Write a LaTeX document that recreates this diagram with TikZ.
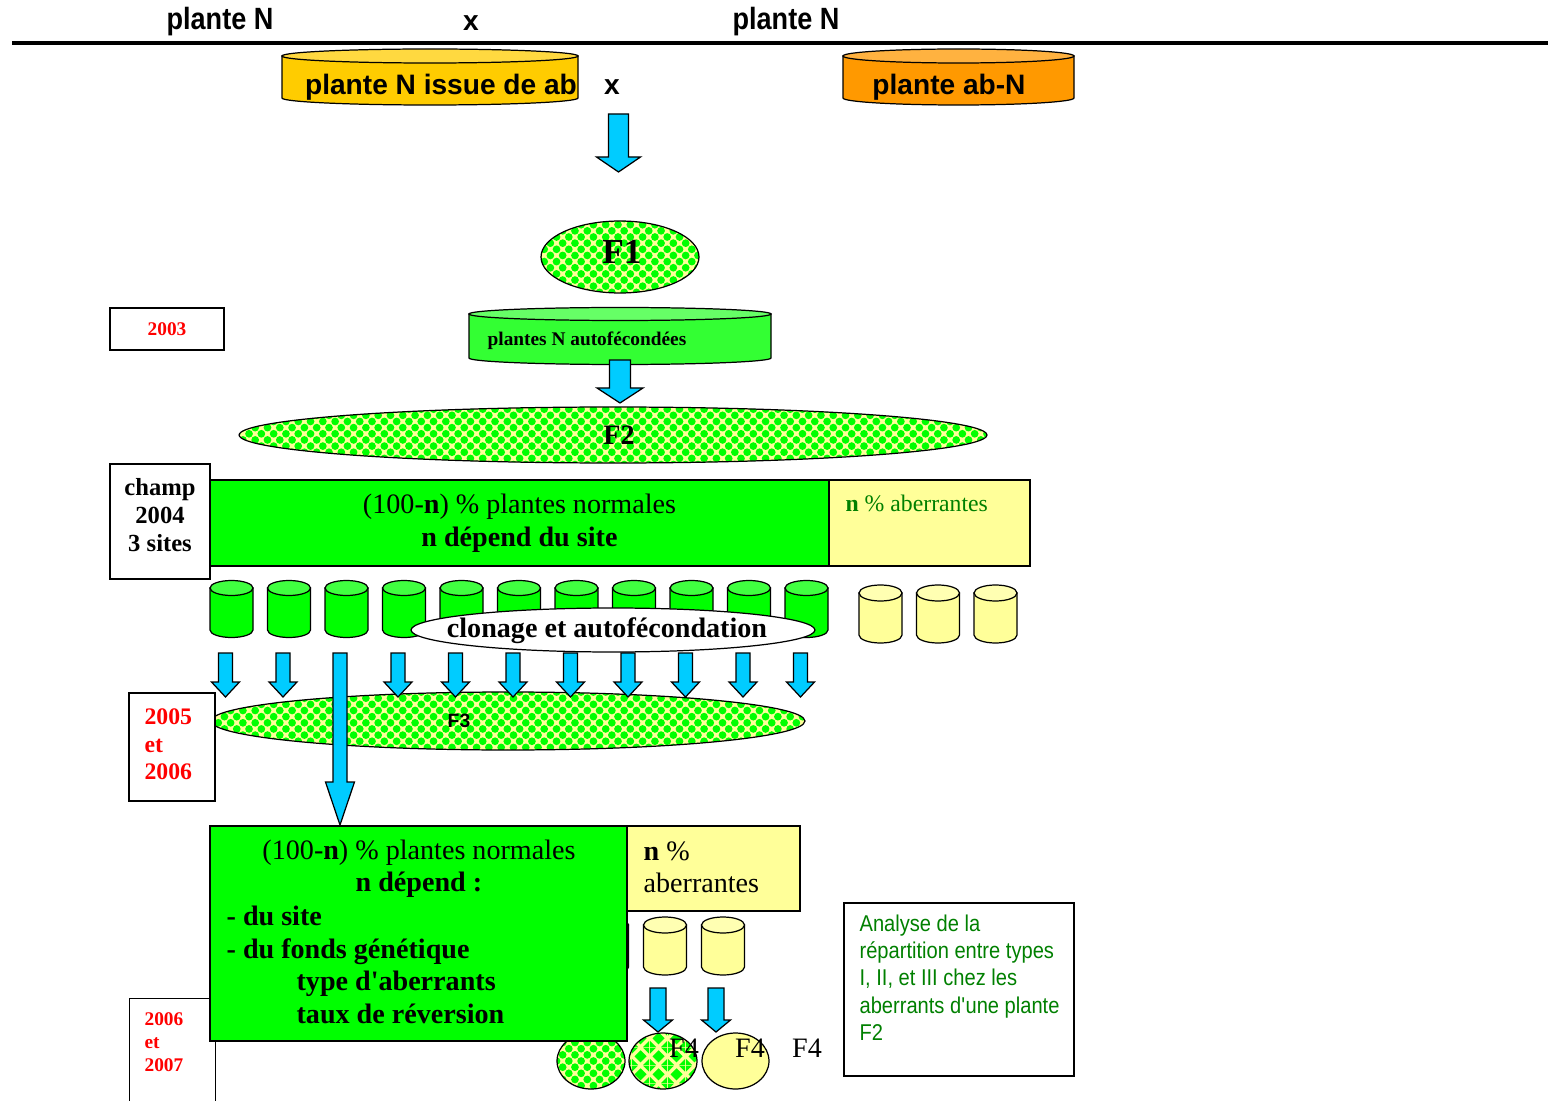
\documentclass[tikz,border=0pt]{standalone}
\usepackage{fontspec}
\setmainfont{Liberation Serif}
\setsansfont{Liberation Sans}
\newfontfamily\narrowsans[FakeStretch=0.88]{Liberation Sans}
\usepackage{tikz}
\usetikzlibrary{shapes.geometric, patterns}
\definecolor{gold}{HTML}{FFCC00}
\definecolor{orangeab}{HTML}{FF9900}
\definecolor{vert}{HTML}{00FF00}
\definecolor{vertclair}{HTML}{33FF33}
\definecolor{jaunepale}{HTML}{FFFF99}
\definecolor{cyanfl}{HTML}{00CCFF}
\definecolor{vertfonce}{HTML}{008000}
\definecolor{rouge}{HTML}{FF0000}
% seed textures
\pgfdeclarepatternformonly{ballgrid}{\pgfqpoint{-1pt}{-1pt}}{\pgfqpoint{8pt}{8pt}}{\pgfqpoint{7pt}{7pt}}{%
  \pgfpathcircle{\pgfqpoint{1.75pt}{1.75pt}}{2.2pt}
  \pgfpathcircle{\pgfqpoint{5.25pt}{5.25pt}}{2.2pt}
  \pgfusepath{fill}}
\pgfdeclarepatternformonly{diamondgrid}{\pgfqpoint{0pt}{0pt}}{\pgfqpoint{10pt}{10pt}}{\pgfqpoint{10pt}{10pt}}{%
  \pgfpathmoveto{\pgfqpoint{5pt}{1.5pt}}\pgfpathlineto{\pgfqpoint{8.5pt}{5pt}}
  \pgfpathlineto{\pgfqpoint{5pt}{8.5pt}}\pgfpathlineto{\pgfqpoint{1.5pt}{5pt}}\pgfpathclose
  \pgfpathmoveto{\pgfqpoint{0pt}{0pt}}\pgfpathlineto{\pgfqpoint{3.5pt}{0pt}}\pgfpathlineto{\pgfqpoint{0pt}{3.5pt}}\pgfpathclose
  \pgfpathmoveto{\pgfqpoint{10pt}{0pt}}\pgfpathlineto{\pgfqpoint{10pt}{3.5pt}}\pgfpathlineto{\pgfqpoint{6.5pt}{0pt}}\pgfpathclose
  \pgfpathmoveto{\pgfqpoint{0pt}{10pt}}\pgfpathlineto{\pgfqpoint{0pt}{6.5pt}}\pgfpathlineto{\pgfqpoint{3.5pt}{10pt}}\pgfpathclose
  \pgfpathmoveto{\pgfqpoint{10pt}{10pt}}\pgfpathlineto{\pgfqpoint{6.5pt}{10pt}}\pgfpathlineto{\pgfqpoint{10pt}{6.5pt}}\pgfpathclose
  \pgfusepath{fill}}
\tikzset{fatarrowstyle/.style={fill=cyanfl, draw=black},
  boxwhite/.style={draw, fill=white, line width=0.8pt},
  seeds/.style={ellipse, draw, inner sep=0pt, preaction={fill=jaunepale}, pattern=ballgrid, pattern color=vert},
  bigsans/.style={font=\fontsize{16}{19}\selectfont\sffamily\bfseries, inner sep=0pt},
  serif16/.style={font=\fontsize{16}{18.5}\selectfont, inner sep=0pt},
  yeartxt/.style={text=rouge, align=left, inner sep=0pt}}
% block arrow: x, top, head start, tip, half shaft, half head
\newcommand{\fatarrow}[6]{%
  \filldraw[fatarrowstyle] ({#1-#5},#2) -- ({#1+#5},#2) -- ({#1+#5},#3) -- ({#1+#6},#3)
    -- (#1,#4) -- ({#1-#6},#3) -- ({#1-#5},#3) -- cycle;}
% drum: x, top, bottom, rx, ry, colour
\newcommand{\drum}[6]{%
  \filldraw[fill=#6] ({#1-#4},#2) -- ({#1-#4},#3) arc[start angle=180, end angle=0, x radius=#4, y radius=#5]
    -- ({#1+#4},#2) -- cycle;
  \filldraw[fill=#6!75!white] (#1,#2) ellipse[x radius=#4, y radius=#5];}

\begin{document}
\begin{tikzpicture}[x=0.02cm, y=-0.02cm, line width=0.7pt]
\useasboundingbox (0,0) rectangle (1552,1101);

% parents
\node[bigsans, font=\fontsize{17.5}{20}\selectfont\narrowsans\bfseries] (parent1) at (220,22) {plante N};
\node[bigsans] (cross1) at (471,23) {x};
\node[bigsans, font=\fontsize{17.5}{20}\selectfont\narrowsans\bfseries] (parent2) at (786,22) {plante N};
\draw[line width=1.8pt] (12,43) -- (1548,43);

\drum{430}{56}{98}{148}{7}{gold}
\drum{958.5}{56}{98}{115.5}{7}{orangeab}
\node[bigsans] (issue) at (441,87) {plante N issue de ab};
\node[bigsans] (cross2) at (612,87) {x};
\node[bigsans] (abN) at (949,87) {plante ab-N};
\fatarrow{618.5}{114}{157}{172}{10}{22}

\node[seeds, minimum width=3.16cm, minimum height=1.44cm] (F1) at (620,257) {};
\node[font=\fontsize{20}{24}\selectfont\bfseries, inner sep=0pt] (F1txt) at (622,252) {F1};

\node[boxwhite, minimum width=2.28cm, minimum height=0.84cm,
  font=\fontsize{11}{13}\selectfont\bfseries, text=rouge] (y2003) at (167,329) {2003};

\drum{620}{314}{358}{151}{6.5}{vertclair}
\node[font=\fontsize{11}{13}\selectfont\bfseries, inner sep=0pt] (autof) at (587,341) {plantes N autofécondées};
\fatarrow{620}{360}{388}{403}{10.5}{23}

\node[seeds, minimum width=14.96cm, minimum height=1.12cm] (F2) at (613,435) {};
\node[font=\fontsize{16}{19}\selectfont\bfseries, inner sep=0pt] (F2txt) at (619,435) {F2};

% champ 2004
\node[boxwhite, minimum width=2cm, minimum height=2.3cm] (champ) at (160,521.5) {};
\node[align=center, inner sep=0pt, font=\fontsize{14}{16}\selectfont\bfseries] (champtxt) at (160,515)
  {champ\\2004\\3 sites};
\node[draw, fill=vert, minimum width=12.38cm, minimum height=1.72cm] (norm1) at (519.5,523) {};
\node[align=center, inner sep=0pt, font=\fontsize{16}{18.5}\selectfont] (norm1txt) at (519.5,523)
  {(100-\textbf{n}) \% plantes normales\\\textbf{n dépend du site}};
\node[draw, fill=jaunepale, minimum width=4.02cm, minimum height=1.72cm] (aber1) at (929.5,523) {};
\node[font=\fontsize{13.5}{16}\selectfont, text=vertfonce, anchor=west, inner sep=0pt]
  (aber1txt) at (845,503) {\textbf{n} \% aberrantes};

\foreach \i in {0,...,10} \drum{231.5+57.5*\i}{588}{630}{21.5}{7.5}{vert};
\foreach \i in {0,1,2} \drum{880.5+57.5*\i}{593}{635}{21.5}{8}{jaunepale};

\node[ellipse, draw, fill=white, minimum width=8.08cm, minimum height=0.88cm, inner sep=0pt] (clonage) at (613,630) {};
\node[font=\fontsize{16}{19}\selectfont\bfseries, inner sep=0pt] (clonagetxt) at (607,631) {clonage et autofécondation};

\node[seeds, minimum width=11.88cm, minimum height=1.16cm] (F3) at (508,721) {};
\node[font=\fontsize{11}{13}\selectfont\sffamily\bfseries, inner sep=0pt] (F3txt) at (459,721) {F3};
\foreach \i in {0,1,3,4,...,10} \fatarrow{225.5+57.5*\i}{653}{682}{697}{7}{14};
\fatarrow{340}{653}{782}{825}{7}{14.5}

\node[boxwhite, minimum width=1.72cm, minimum height=2.16cm] (y2005) at (172,747) {};
\node[yeartxt, font=\fontsize{13.5}{15.6}\selectfont\bfseries, anchor=west] (y2005txt) at (144,744.5) {2005\\et\\2006};

% F4 generation
\foreach \i in {0,1,2} \drum{607+58*\i}{925}{967}{21.5}{8}{jaunepale};
\node[seeds, minimum width=1.36cm, minimum height=1.12cm] (F4a) at (591,1061) {};
\node[ellipse, draw, inner sep=0pt, preaction={fill=jaunepale}, pattern=diamondgrid, pattern color=vert,
  minimum width=1.36cm, minimum height=1.12cm] (F4b) at (663,1061) {};
\node[ellipse, draw, fill=jaunepale, minimum width=1.34cm, minimum height=1.12cm] (F4c) at (735.5,1061) {};

\node[boxwhite, minimum width=1.72cm, minimum height=2.4cm, anchor=north west] (y2006) at (129,998) {};
\node[yeartxt, font=\fontsize{11}{13}\selectfont\bfseries, anchor=west] (y2006txt) at (144,1042) {2006\\et\\2007};

\node[draw, fill=vert, minimum width=8.34cm, minimum height=4.3cm] (norm2) at (418.5,933.5) {};
\node[serif16, align=center] (norm2txt) at (419,868.5) {(100-\textbf{n}) \% plantes normales\\\textbf{n dépend :}};
\node[serif16, align=left, anchor=west, font=\fontsize{16}{18.5}\selectfont\bfseries] (norm2dep) at (226,965)
  {- du site\\- du fonds génétique\\\hspace*{1.4cm}type d\textquotesingle aberrants\\\hspace*{1.4cm}taux de réversion};
\node[draw, fill=jaunepale, minimum width=3.46cm, minimum height=1.7cm] (aber2) at (713.5,868.5) {};
\node[serif16, align=left, anchor=west] (aber2txt) at (643,867.5) {\textbf{n} \%\\aberrantes};

\fatarrow{658}{988}{1020}{1032}{8}{14.5}
\fatarrow{716}{988}{1020}{1032}{8}{14.5}
\node[serif16] (F4atxt) at (684,1048) {F4};
\node[serif16] (F4btxt) at (750,1048) {F4};
\node[serif16] (F4ctxt) at (807,1048) {F4};

\node[boxwhite, minimum width=4.6cm, minimum height=3.46cm] (analyse) at (959,989.5) {};
\node[font=\fontsize{13}{15.6}\selectfont\narrowsans, text=vertfonce, align=left, anchor=north west, inner sep=0pt]
  (analysetxt) at (859,914) {Analyse de la\\répartition entre types\\I, II, et III chez les\\aberrants d\textquotesingle une plante\\F2};
\end{tikzpicture}
\end{document}
